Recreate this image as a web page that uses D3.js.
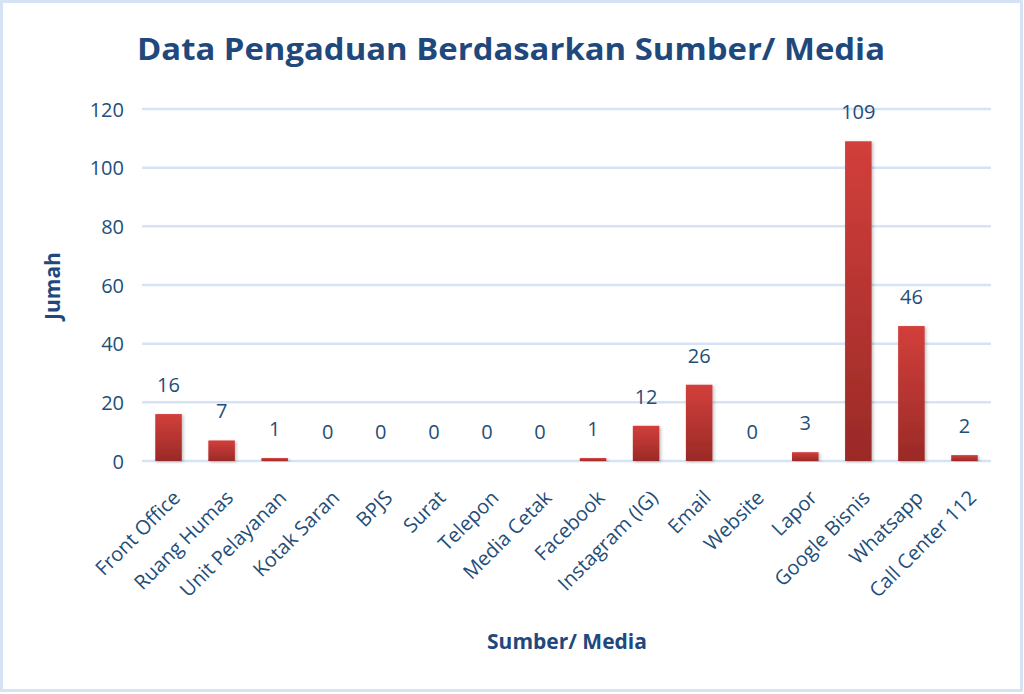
<!DOCTYPE html>
<html><head><meta charset="utf-8">
<script src="https://cdn.jsdelivr.net/npm/d3@7"></script>
<style>html,body{margin:0;padding:0;background:#fff;}svg{display:block;}</style>
</head><body>
<svg id="chart" width="1024" height="694"></svg>
<script>
const categories = ["Front Office","Ruang Humas","Unit Pelayanan","Kotak Saran","BPJS","Surat","Telepon","Media Cetak","Facebook","Instagram (IG)","Email","Website","Lapor","Google Bisnis","Whatsapp","Call Center 112"];
const values = [16,7,1,0,0,0,0,0,1,12,26,0,3,109,46,2];
const yTicks = [0,20,40,60,80,100,120];
const title = "Data Pengaduan Berdasarkan Sumber/ Media";
const xTitle = "Sumber/ Media";
const yTitle = "Jumah";

const svg = d3.select("#chart");
const font = "'Open Sans', 'DejaVu Sans', sans-serif";
const txt = "#1F4E79";

svg.append("rect").attr("x",1.5).attr("y",1.5).attr("width",1020).attr("height",689)
  .attr("fill","#fff").attr("stroke","#D5E3F4").attr("stroke-width",3);

const m = {l:142, r:991, t:109, b:461};
const x = d3.scaleBand().domain(categories).range([m.l,m.r]).paddingInner(0.5).paddingOuter(0.25);
const y = d3.scaleLinear().domain([0,120]).range([m.b,m.t]);

const defs = svg.append("defs");
const g = defs.append("linearGradient").attr("id","barg").attr("x1",0).attr("y1",0).attr("x2",0).attr("y2",1);
g.append("stop").attr("offset","0%").attr("stop-color","#D23F3B");
g.append("stop").attr("offset","100%").attr("stop-color","#9A2A27");
const f = defs.append("filter").attr("id","sh").attr("x","-20%").attr("y","-5%").attr("width","140%").attr("height","115%");
f.append("feDropShadow").attr("dx",1.5).attr("dy",1).attr("stdDeviation",1.5).attr("flood-color","#000").attr("flood-opacity",0.25);

// gridlines
svg.append("g").selectAll("line").data(yTicks).join("line")
  .attr("x1",m.l).attr("x2",m.r).attr("y1",d=>y(d)).attr("y2",d=>y(d))
  .attr("stroke","#D5E3F4").attr("stroke-width",2.5);

// y axis labels
const yAxis = d3.axisLeft(y).tickValues(yTicks).tickSize(0).tickPadding(0);
const ya = svg.append("g").attr("transform",`translate(${m.l-18},0)`).call(yAxis);
ya.select(".domain").remove();
ya.selectAll("text").attr("font-family",font).attr("font-size",20).attr("fill",txt).attr("dy","0.35em");

// bars
svg.append("g").selectAll("rect").data(values).join("rect")
  .attr("x",(d,i)=>x(categories[i])).attr("width",x.bandwidth())
  .attr("y",d=>y(d)).attr("height",d=>y(0)-y(d))
  .attr("fill","url(#barg)").attr("filter","url(#sh)");

// value labels
svg.append("g").selectAll("text").data(values).join("text")
  .attr("x",(d,i)=>x(categories[i])+x.bandwidth()/2)
  .attr("y",d=>y(d)-22)
  .attr("text-anchor","middle").attr("font-family",font).attr("font-size",20).attr("fill",txt)
  .text(d=>d);

// x axis labels
const xAxis = d3.axisBottom(x).tickSize(0).tickPadding(0);
const xa = svg.append("g").attr("transform",`translate(0,${m.b})`).call(xAxis);
xa.select(".domain").remove();
xa.selectAll(".tick text")
  .attr("font-family",font).attr("font-size",20).attr("fill",txt)
  .attr("text-anchor","end").attr("dy",0).attr("y",0)
  .attr("transform","translate(13,38) rotate(-45)");

// titles
svg.append("text").attr("x",511).attr("y",60).attr("text-anchor","middle")
  .attr("font-family",font).attr("font-weight","bold").attr("font-size",31).attr("fill","#1F497D")
  .attr("textLength",748).attr("lengthAdjust","spacingAndGlyphs").text(title);
svg.append("text").attr("x",567).attr("y",649).attr("text-anchor","middle")
  .attr("font-family",font).attr("font-weight","bold").attr("font-size",21).attr("fill","#1F497D").text(xTitle);
svg.append("text").attr("transform","translate(60,286) rotate(-90)").attr("text-anchor","middle")
  .attr("font-family",font).attr("font-weight","bold").attr("font-size",21).attr("fill","#1F497D").text(yTitle);
</script>
</body></html>
